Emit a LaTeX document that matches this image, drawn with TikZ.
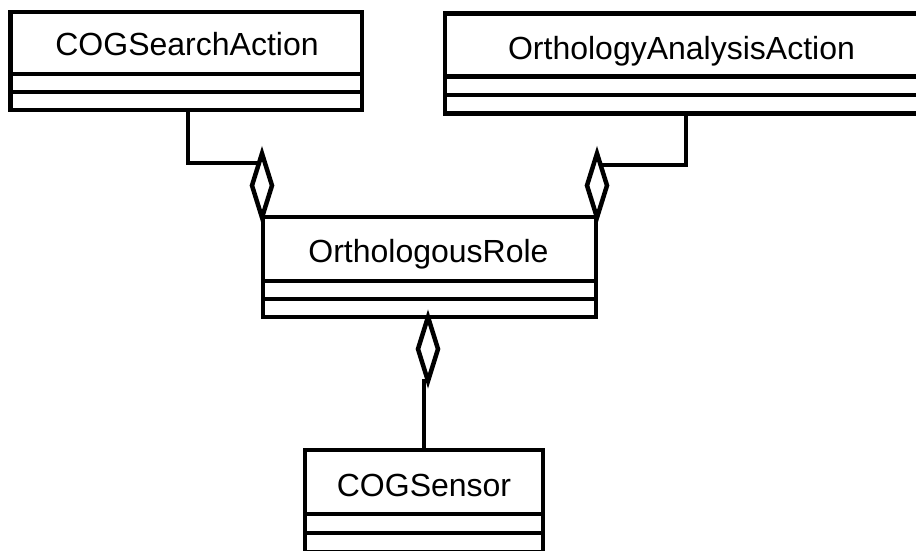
\documentclass[tikz,border=0pt]{standalone}
\usepackage{fontspec}
\setmainfont{Liberation Sans}
\begin{document}
\begin{tikzpicture}[x=1pt,y=-1pt,
  classbox/.style={draw, line width=4.5pt, inner sep=0pt, outer sep=0pt, fill=white},
  classname/.style={font=\fontsize{32}{38}\selectfont, inner sep=0pt, anchor=base},
  link/.style={line width=4.5pt},
  aggr/.style={draw, line width=4.5pt, fill=white, miter limit=10}]
\useasboundingbox (0,0) rectangle (916,550);

% horizontal compartment separators: node, header height, row height
\newcommand\umlrows[3]{%
  \draw[link] ([yshift=-#2pt]#1.north west) -- ([yshift=-#2pt]#1.north east);
  \draw[link] ([yshift=-#2pt-#3pt]#1.north west) -- ([yshift=-#2pt-#3pt]#1.north east);}

% class boxes
\node[classbox, minimum width=351.5pt, minimum height=98pt] (search) at (186.25,61) {};
\umlrows{search}{62}{18}
\node[classname] (searchname) at (187,55) {COGSearchAction};

\node[classbox, minimum width=473pt, minimum height=100pt] (analysis) at (681.5,63.5) {};
\umlrows{analysis}{63}{18.5}
\node[classname] (analysisname) at (681.5,59) {OrthologyAnalysisAction};

\node[classbox, minimum width=333pt, minimum height=100pt] (role) at (429.5,267) {};
\umlrows{role}{64}{18}
\node[classname] (rolename) at (428.5,262.5) {OrthologousRole};

\node[classbox, minimum width=238pt, minimum height=102pt] (sensor) at (424,501) {};
\umlrows{sensor}{64}{19}
\node[classname] (sensorname) at (424,496) {COGSensor};

% aggregation diamonds (geometric centres)
\coordinate (d1) at (262,185.5);
\coordinate (d2) at (597,185.5);
\coordinate (d3) at (428,349);
\coordinate (j1) at (262,163);
\coordinate (j2) at (597,165);
\coordinate (d3b) at (428,381);

% connectors
\draw[link] ([xshift=1.75pt]search.south) |- (j1);
\draw[link] ([xshift=4.5pt]analysis.south) |- (j2);
\draw[link] (d1) -- (d1 |- role.north);
\draw[link] (d2) -- (d2 |- role.north);
\draw[link] (d3b) -| (sensor.north);

% diamonds drawn on top
\foreach \d in {d1,d2,d3}
  \draw[aggr] (\d) +(0,-32) -- +(10,0) -- +(0,32) -- +(-10,0) -- cycle;
\end{tikzpicture}
\end{document}
